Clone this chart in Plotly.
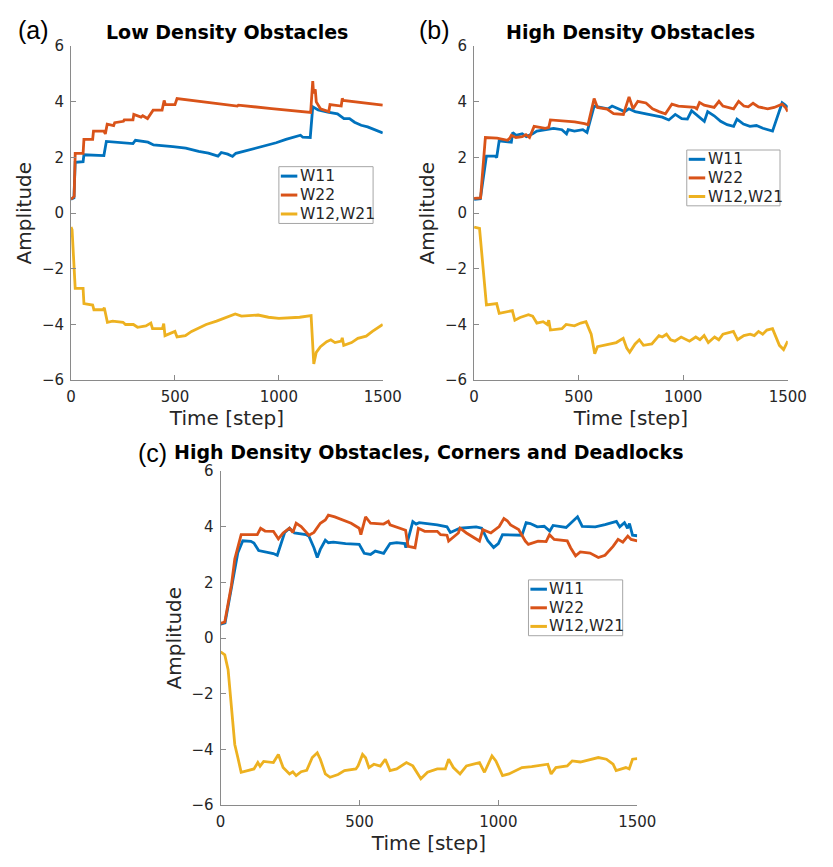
import plotly.graph_objects as go

# ---------------- data ----------------
# Panel (a): Low Density Obstacles
a_w11_t = [0, 14, 20, 58, 62, 158, 170, 298, 310, 324, 370, 397, 450, 490, 552, 614, 661, 707, 723, 754,
           777, 793, 830, 894, 941, 987, 1034, 1081, 1104, 1115, 1151, 1163, 1189, 1235, 1282, 1313, 1340, 1364, 1396, 1427,
           1450, 1470, 1489, 1500]
a_w11_v = [0.5, 0.55, 1.83, 1.85, 2.1, 2.07, 2.58, 2.5, 2.62, 2.6, 2.55, 2.45, 2.43, 2.39, 2.34, 2.22, 2.16, 2.05, 2.18, 2.12,
           2.04, 2.15, 2.22, 2.34, 2.45, 2.53, 2.65, 2.74, 2.8, 2.73, 2.72, 3.82, 3.71, 3.63, 3.57, 3.4, 3.4, 3.27, 3.16, 3.1,
           3.03, 2.98, 2.94, 2.88]
a_w22_t = [0, 15, 20, 58, 62, 104, 108, 158, 165, 174, 205, 210, 252, 256, 298, 302, 337, 345, 368, 392,
           395, 438, 448, 454, 500, 510, 650, 655, 800, 805, 960, 965, 1153, 1163, 1167, 1175, 1180, 1190, 1200, 1240,
           1246, 1300, 1305, 1310, 1500]
a_w22_v = [0.5, 0.6, 2.15, 2.15, 2.65, 2.65, 2.95, 2.95, 2.85, 3.2, 3.15, 3.25, 3.3, 3.35, 3.35, 3.55, 3.45, 3.5, 3.4, 3.7,
           3.7, 3.7, 4.05, 3.9, 3.9, 4.12, 3.98, 4.0, 3.85, 3.88, 3.74, 3.76, 3.62, 4.75, 4.3, 4.45, 4.0, 3.85, 3.75, 3.65,
           3.9, 3.85, 4.12, 4.05, 3.88]
a_w12_t = [0, 5, 20, 58, 62, 104, 110, 155, 160, 175, 200, 250, 262, 300, 320, 360, 384, 392, 440, 446,
           452, 480, 500, 510, 550, 580, 620, 650, 700, 730, 770, 790, 820, 900, 950, 1000, 1100, 1155, 1168, 1180,
           1200, 1230, 1250, 1270, 1300, 1305, 1312, 1350, 1380, 1420, 1450, 1480, 1500]
a_w12_v = [-0.5, -0.6, -2.7, -2.7, -3.25, -3.3, -3.47, -3.47, -3.4, -3.92, -3.88, -3.92, -4.0, -4.0, -4.1, -4.05, -3.95, -4.15, -4.15, -3.97,
           -4.4, -4.3, -4.25, -4.45, -4.4, -4.25, -4.1, -4.0, -3.88, -3.8, -3.7, -3.62, -3.7, -3.66, -3.74, -3.78, -3.74, -3.68, -5.42, -5.0,
           -4.8, -4.62, -4.55, -4.65, -4.6, -4.48, -4.75, -4.65, -4.5, -4.42, -4.25, -4.1, -4.0]

# Panel (b): High Density Obstacles
b_w11_t = [0, 30, 59, 100, 108, 120, 178, 185, 200, 230, 250, 280, 300, 340, 380, 420, 442, 450, 480, 520,
           540, 574, 600, 640, 660, 700, 720, 740, 770, 822, 860, 900, 931, 962, 993, 1020, 1040, 1070, 1101, 1117,
           1148, 1179, 1210, 1241, 1257, 1288, 1319, 1350, 1381, 1427, 1473, 1485, 1500]
b_w11_v = [0.5, 0.52, 2.05, 2.05, 2.0, 2.6, 2.55, 2.9, 2.8, 2.85, 2.75, 2.85, 2.95, 3.0, 3.05, 3.0, 2.85, 3.0, 2.95, 3.0,
           2.9, 3.85, 3.8, 3.75, 3.85, 3.7, 3.65, 3.75, 3.65, 3.57, 3.5, 3.45, 3.35, 3.55, 3.4, 3.38, 3.68, 3.5, 3.3, 3.65,
           3.5, 3.3, 3.18, 3.12, 3.38, 3.2, 3.12, 3.15, 3.05, 2.95, 3.97, 3.9, 3.8]
b_w22_t = [0, 31, 54, 110, 160, 171, 178, 200, 230, 248, 265, 287, 341, 357, 365, 434, 481, 528, 545, 574,
           590, 636, 667, 714, 741, 760, 783, 822, 853, 884, 915, 946, 977, 1055, 1065, 1078, 1100, 1148, 1171, 1190,
           1241, 1265, 1290, 1311, 1334, 1360, 1404, 1435, 1473, 1489, 1500]
b_w22_v = [0.53, 0.55, 2.72, 2.7, 2.62, 2.7, 2.8, 2.72, 2.75, 2.82, 2.72, 3.12, 3.05, 3.08, 3.35, 3.32, 3.28, 3.22, 3.18, 4.12,
           3.8, 3.74, 3.58, 3.55, 4.18, 3.75, 4.02, 3.96, 3.75, 3.65, 3.57, 3.92, 3.85, 3.8, 3.75, 3.98, 3.88, 3.8, 4.02, 3.85,
           3.75, 4.02, 3.85, 3.82, 3.95, 3.82, 3.75, 3.8, 3.92, 3.8, 3.65]
b_w12_t = [0, 26, 59, 108, 120, 183, 195, 220, 260, 280, 300, 330, 350, 357, 365, 420, 440, 480, 510, 535,
           560, 577, 590, 620, 680, 713, 730, 744, 770, 790, 810, 850, 884, 900, 920, 940, 960, 990, 1030, 1060,
           1080, 1100, 1120, 1150, 1170, 1190, 1220, 1240, 1260, 1290, 1320, 1340, 1360, 1380, 1400, 1427, 1460, 1480, 1500]
b_w12_v = [-0.5, -0.55, -3.3, -3.25, -3.6, -3.5, -3.85, -3.75, -3.65, -3.7, -3.95, -3.9, -4.0, -3.85, -4.2, -4.15, -4.0, -4.05, -3.95, -3.9,
           -4.35, -5.05, -4.8, -4.75, -4.65, -4.5, -4.85, -5.0, -4.7, -4.55, -4.75, -4.7, -4.4, -4.45, -4.35, -4.55, -4.6, -4.45, -4.6, -4.45,
           -4.55, -4.4, -4.65, -4.45, -4.55, -4.35, -4.3, -4.25, -4.55, -4.4, -4.35, -4.4, -4.25, -4.35, -4.2, -4.15, -4.75, -4.9, -4.6]

# Panel (c): High Density Obstacles, Corners and Deadlocks
c_w11_t = [0, 16, 62, 80, 109, 120, 137, 167, 190, 204, 220, 231, 248, 266, 307, 318, 336, 348, 359, 377,
           388, 406, 450, 499, 517, 540, 557, 587, 610, 634, 663, 667, 692, 704, 715, 740, 780, 815, 827, 862,
           920, 940, 962, 983, 1000, 1015, 1085, 1100, 1115, 1140, 1165, 1185, 1197, 1244, 1270, 1285, 1302, 1349, 1384, 1425,
           1437, 1454, 1465, 1472, 1483, 1500]
c_w11_v = [0.5, 0.55, 3.07, 3.5, 3.48, 3.42, 3.15, 3.1, 3.04, 2.98, 3.45, 3.8, 3.95, 3.78, 3.72, 3.66, 3.25, 2.9, 3.19, 3.52,
           3.43, 3.45, 3.4, 3.37, 3.05, 3.01, 3.13, 3.05, 3.4, 3.43, 3.4, 3.25, 4.19, 4.1, 4.15, 4.12, 4.07, 4.0, 3.8, 3.95,
           4.0, 3.95, 3.5, 3.26, 3.4, 3.72, 3.7, 4.15, 4.12, 4.0, 4.02, 3.85, 4.05, 3.98, 4.2, 4.36, 4.02, 4.0, 4.08, 4.2,
           4.0, 4.15, 3.95, 4.12, 3.7, 3.68]
c_w22_t = [0, 15, 39, 51, 74, 132, 144, 160, 190, 208, 225, 248, 260, 272, 290, 300, 318, 336, 359, 377,
           388, 411, 441, 470, 499, 505, 522, 540, 587, 604, 610, 657, 666, 675, 700, 712, 735, 780, 792, 815,
           821, 856, 862, 885, 900, 932, 944, 973, 1003, 1020, 1032, 1044, 1073, 1097, 1108, 1143, 1172, 1184, 1201, 1248,
           1260, 1278, 1295, 1330, 1360, 1384, 1413, 1431, 1448, 1466, 1478, 1500]
c_w22_v = [0.53, 0.58, 1.9, 2.84, 3.72, 3.72, 3.95, 3.85, 3.84, 3.57, 3.78, 3.95, 3.8, 4.13, 4.01, 3.9, 3.7, 3.8, 4.13, 4.25,
           4.42, 4.36, 4.25, 4.13, 3.95, 3.72, 4.36, 4.13, 4.1, 4.2, 4.07, 3.9, 3.88, 3.3, 3.25, 3.95, 3.84, 3.84, 3.72, 3.7,
           3.49, 3.78, 3.95, 3.78, 3.68, 3.49, 3.9, 3.78, 4.01, 4.3, 4.22, 4.07, 3.9, 3.49, 3.37, 3.49, 3.47, 3.72, 3.55, 3.5,
           3.25, 2.96, 3.1, 3.06, 2.9, 2.98, 3.3, 3.55, 3.45, 3.67, 3.55, 3.5]
c_w12_t = [0, 15, 27, 39, 51, 62, 74, 120, 134, 142, 155, 190, 208, 225, 248, 260, 272, 290, 310, 330,
           348, 359, 377, 394, 423, 446, 487, 495, 511, 522, 534, 552, 575, 593, 610, 634, 651, 669, 692, 721,
           745, 780, 809, 821, 838, 862, 885, 909, 932, 950, 977, 991, 1015, 1038, 1085, 1120, 1178, 1190, 1207, 1248,
           1266, 1295, 1330, 1360, 1389, 1413, 1424, 1459, 1471, 1483, 1500]
c_w12_v = [-0.49, -0.6, -1.13, -2.42, -3.82, -4.29, -4.82, -4.7, -4.47, -4.6, -4.43, -4.47, -4.18, -4.65, -4.88, -4.8, -4.94, -4.8, -4.75, -4.29,
           -4.12, -4.35, -4.88, -5.0, -4.9, -4.76, -4.7, -4.59, -4.18, -4.3, -4.65, -4.53, -4.6, -4.35, -4.76, -4.7, -4.59, -4.47, -4.59, -5.05,
           -4.82, -4.7, -4.7, -4.35, -4.65, -4.88, -4.59, -4.53, -4.47, -4.82, -4.23, -4.41, -4.94, -4.88, -4.65, -4.62, -4.53, -4.88, -4.65, -4.59,
           -4.41, -4.45, -4.35, -4.29, -4.35, -4.53, -4.76, -4.65, -4.7, -4.35, -4.33]

series_names = ["W11", "W22", "W12,W21"]
panel_titles = ["Low Density Obstacles", "High Density Obstacles",
                "High Density Obstacles, Corners and Deadlocks"]
panel_labels = ["(a)", "(b)", "(c)"]
x_ticks = [0, 500, 1000, 1500]
y_ticks = [-6, -4, -2, 0, 2, 4, 6]
x_axis_title = "Time [step]"
y_axis_title = "Amplitude"

# ---------------- styling ----------------
W, H = 833, 867
colors = ["#0072BD", "#D95319", "#EDB120"]
FONT = "DejaVu Sans"
TXT = "#262626"
AX = "#8a8a8a"

# plot boxes in pixels: (left, right, top, bottom)
boxes = [(68, 389, 38, 379), (483, 806, 38, 379), (222, 651, 472, 813)]
# title centre heights in pixels
title_y = [23, 23, 452]

panels = [
    [(a_w11_t, a_w11_v), (a_w22_t, a_w22_v), (a_w12_t, a_w12_v)],
    [(b_w11_t, b_w11_v), (b_w22_t, b_w22_v), (b_w12_t, b_w12_v)],
    [(c_w11_t, c_w11_v), (c_w22_t, c_w22_v), (c_w12_t, c_w12_v)],
]
# legend boxes (left, top, right, bottom) in pixels
legend_boxes = [(282, 161, 379, 219), (702, 144, 798, 201), (539, 583, 636, 640)]

fig = go.Figure()
layout = dict(width=W, height=H, margin=dict(l=0, r=0, t=0, b=0),
              paper_bgcolor="white", plot_bgcolor="white", showlegend=False,
              font=dict(family=FONT, color=TXT, size=15))
annotations = []
shapes = []


def px_x(v):
    return v / W


def px_y(v):
    return 1 - v / H


for i, (box, data) in enumerate(zip(boxes, panels)):
    l, r, t, b = box
    sfx = "" if i == 0 else str(i + 1)
    for k, (tt, vv) in enumerate(data):
        fig.add_trace(go.Scatter(x=tt, y=vv, mode="lines", name=series_names[k],
                                 line=dict(color=colors[k], width=2.8),
                                 xaxis="x" + sfx, yaxis="y" + sfx))
    common = dict(showline=True, linecolor=AX, linewidth=1, ticks="inside", ticklen=5,
                  tickcolor=AX, tickwidth=1, showgrid=False, zeroline=False, mirror=False,
                  ticklabelstandoff=3,
                  tickfont=dict(family=FONT, size=15, color=TXT))
    layout["xaxis" + sfx] = dict(common, domain=[l / W, r / W], range=[0, 1500],
                                 tickvals=x_ticks, anchor="y" + sfx,
                                 title=dict(text=x_axis_title, font=dict(family=FONT, size=20, color=TXT),
                                            standoff=3))
    layout["yaxis" + sfx] = dict(common, domain=[1 - b / H, 1 - t / H], range=[-6, 6],
                                 tickvals=y_ticks, anchor="x" + sfx,
                                 title=dict(text=y_axis_title, font=dict(family=FONT, size=20, color=TXT),
                                            standoff=4))
    # legend drawn as a framed key
    bl, bt, br, bb = legend_boxes[i]
    shapes.append(dict(type="rect", xref="paper", yref="paper",
                       x0=px_x(bl), x1=px_x(br), y0=px_y(bb), y1=px_y(bt),
                       line=dict(color="#a6a6a6", width=1), fillcolor="white", layer="above"))
    row_h = (bb - bt) / 3
    for k in range(3):
        ry = bt + row_h * (k + 0.5)
        shapes.append(dict(type="line", xref="paper", yref="paper",
                           x0=px_x(bl + 2), x1=px_x(bl + 19), y0=px_y(ry), y1=px_y(ry),
                           line=dict(color=colors[k], width=3), layer="above"))
        annotations.append(dict(text=series_names[k], x=px_x(bl + 19.5), y=px_y(ry),
                                xref="paper", yref="paper", xanchor="left", yanchor="middle",
                                showarrow=False, font=dict(family=FONT, size=15.5, color=TXT)))
    # panel title
    annotations.append(dict(text=panel_titles[i], x=(l + r) / 2 / W, y=px_y(title_y[i]),
                            xref="paper", yref="paper", xanchor="center", yanchor="middle",
                            showarrow=False, font=dict(family=FONT, size=19, color="black", weight="bold")))

label_pos = [(29, 21), (442, 21), (152, 453)]
for i, (px, py) in enumerate(label_pos):
    annotations.append(dict(text=panel_labels[i], x=px_x(px), y=px_y(py), xref="paper", yref="paper",
                            xanchor="center", yanchor="middle", showarrow=False,
                            font=dict(family="Liberation Sans", size=25, color="black")))

layout["annotations"] = annotations
layout["shapes"] = shapes
fig.update_layout(**layout)
fig.write_html("out.html", config={"displayModeBar": False},
               post_script="document.body.style.margin='0';")
